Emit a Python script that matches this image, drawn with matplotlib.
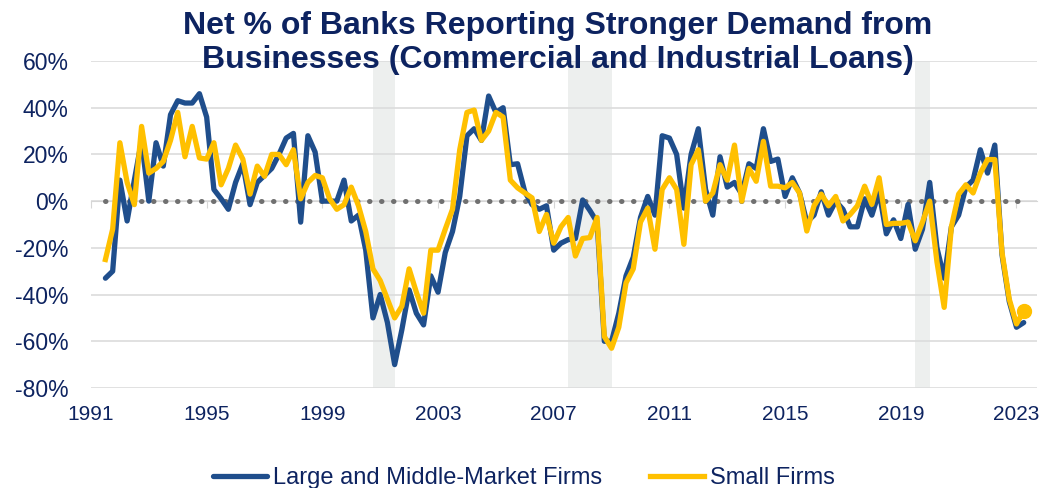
import numpy as np
import matplotlib.pyplot as plt

plt.rcParams['font.family'] = ['Liberation Sans', 'DejaVu Sans']

# quarterly survey readings, net % of banks reporting stronger demand
large_firms = [
    -33, -30, 9, -8.5, 9, 26, 0, 25,
    15, 37, 43, 42, 42, 46, 36, 5,
    1, -3.5, 8, 16, -1.5, 8, 11, 14,
    20, 27, 29, -9, 28, 21, 0, 0,
    0, 9, -8.5, -6, -21, -50, -40, -52,
    -70, -55, -38, -48, -53, -32, -39, -22,
    -13, 2, 28, 31, 26, 45, 38, 40,
    15.6, 16, 4, -1.5, -3.5, -2, -21, -18,
    -16.5, -16, 0.5, -4, -9, -60, -60, -48,
    -32, -24, -7, 2, -6, 28, 27, 20,
    -3, 20, 31, 5, -6, 19, 6, 8,
    3, 16, 14, 31, 17, 18, 2, 10,
    3.5, -9, -6, 4, -6, 0, -3.5, -11,
    -11, 1, -6, 4, -14, -8, -16, -1.4,
    -20.6, -12, 8, -20, -33, -11, -6, 6,
    9, 22, 12, 24, -23, -43, -54, -52,
]
small_firms = [
    -25, -12, 25, 8, -1.5, 32, 12, 14,
    17, 26, 38, 19, 32, 18.5, 18, 25,
    7, 14, 24, 18, 3, 15, 10.6, 20,
    20, 15.6, 22, 1, 8, 11, 10, 1,
    -3.5, -1.5, 6, -2, -13, -29, -34, -42,
    -50, -45, -29, -39, -48, -21, -21, -12,
    -3.5, 22, 38, 39, 26, 30, 38, 36,
    9, 5.7, 3.5, 1.4, -13, -5.7, -18, -11,
    -7, -23.5, -16, -15.6, -7, -58, -63, -54,
    -35, -29, -9, -3, -20.6, 5, 10, 5,
    -18.5, 15.6, 22, 0, 3.5, 15.6, 9, 24,
    0, 14, 8.5, 25.6, 6.4, 6.4, 5.7, 8,
    3.5, -12.8, -2, 3, -2, 2, -8.5, -5.7,
    -2, 6.4, -1.4, 10, -10, -9.5, -9.5, -9,
    -17, -9, 0, -26, -45.5, -11, 3, 7,
    3.5, 12, 17.8, 17.8, -22, -42, -52.6, -47,
]
dates = 1991.5 + 0.25 * np.arange(len(large_firms))

recessions = [(2000.75, 2001.5), (2007.5, 2009.0), (2019.5, 2020.0)]
year_ticks = list(range(1991, 2024, 4))
pct_ticks = list(range(-80, 61, 20))

navy = '#0d2360'
blue = '#1f4e8c'
gold = '#ffc000'

fig = plt.figure(figsize=(10.48, 4.88), dpi=100)
ax = fig.add_axes([0.0868, 0.205, 0.903, 0.670])

for start, end in recessions:
    ax.axvspan(start, end, color='#edefee', lw=0, zorder=0)

ax.set_ylim(-80, 60)
ax.set_xlim(1991, 2023.72)
ax.set_yticks(pct_ticks)
ax.set_yticklabels([f'{v}%' for v in pct_ticks])
ax.yaxis.grid(True, color='#dcdcdc', lw=1.2, zorder=1)
ax.set_axisbelow(True)
ax.tick_params(axis='y', length=0, pad=16, labelsize=16.5, labelcolor=navy)
for side in ['left', 'right', 'top']:
    ax.spines[side].set_visible(False)

# the x axis line sits on zero, labels stay at the bottom
ax.spines['bottom'].set_position(('data', 0))
ax.spines['bottom'].set_color('#d6d6d6')
ax.spines['bottom'].set_zorder(1.5)
ax.set_xticks(year_ticks)
ax.tick_params(axis='x', direction='out', length=5, color='#d6d6d6',
               labelbottom=False)
sec = ax.secondary_xaxis('bottom')
sec.set_xticks(year_ticks)
sec.set_xticklabels([str(y) for y in year_ticks])
sec.tick_params(length=0, pad=12, labelsize=15, labelcolor=navy)
sec.spines['bottom'].set_visible(False)

zero = np.zeros(len(dates))
ax.plot(dates, zero, color='#707070', lw=3.6, linestyle=(0, (0.1, 2.3)),
        dash_capstyle='round', zorder=3)

ax.plot(dates, large_firms, color=blue, lw=3.8, zorder=4,
        solid_capstyle='round', label='Large and Middle-Market Firms')
ax.plot(dates, small_firms, color=gold, lw=3.8, zorder=5,
        label='Small Firms')
ax.plot(dates[-1:], small_firms[-1:], 'o', color=gold, ms=10, zorder=5)

fig.suptitle('Net % of Banks Reporting Stronger Demand from\n'
             'Businesses (Commercial and Industrial Loans)',
             x=0.532, y=0.978, fontsize=23, fontweight='bold', color=navy,
             linespacing=1.18)

leg = fig.legend(loc='center', bbox_to_anchor=(0.5, 0.02), ncol=2,
                 frameon=False, fontsize=17, handlelength=2.3,
                 handletextpad=0.25, columnspacing=2.0)
for text in leg.get_texts():
    text.set_color(navy)

fig.savefig('out.png', dpi=100)
